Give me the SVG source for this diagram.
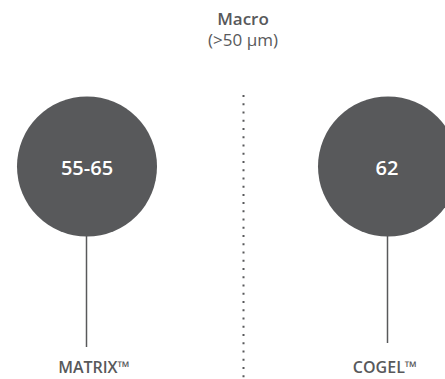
<svg xmlns="http://www.w3.org/2000/svg" width="445" height="379" viewBox="0 0 445 379">
<style>
.circ{fill:#58595b}
.num{font-family:"Open Sans","Liberation Sans",sans-serif;font-weight:600;font-size:20px;fill:#ffffff;text-anchor:middle}
.lbl{font-family:"Open Sans","Liberation Sans",sans-serif;font-weight:600;font-size:16px;fill:#58595b;text-anchor:middle}
.title{font-family:"Open Sans","Liberation Sans",sans-serif;font-weight:600;font-size:17px;fill:#58595b;text-anchor:middle}
.sub{font-family:"Open Sans","Liberation Sans",sans-serif;font-weight:400;font-size:17px;fill:#58595b;text-anchor:middle}
.stem{stroke:#58595b;stroke-width:1.5;fill:none}
.dots{stroke:#58595b;stroke-width:2;stroke-dasharray:2 6.24;fill:none}
</style>
<g id="header">
<text class="title" x="243" y="25">Macro</text>
<text class="sub" x="243" y="46">(&gt;50 µm)</text>
</g>
<g id="connectors">
<line class="stem" x1="86.5" y1="236" x2="86.5" y2="347"/>
<line class="stem" x1="387.5" y1="236" x2="387.5" y2="343"/>
<line class="dots" x1="243.5" y1="95" x2="243.5" y2="379"/>
</g>
<g id="matrix">
<circle class="circ" cx="87" cy="166.5" r="70"/>
<text class="num" x="87" y="175">55-65</text>
<text class="lbl" x="94" y="373">MATRIX™</text>
</g>
<g id="cogel">
<circle class="circ" cx="388" cy="166.5" r="70"/>
<text class="num" x="387" y="175">62</text>
<text class="lbl" x="385" y="373">COGEL™</text>
</g>
</svg>
